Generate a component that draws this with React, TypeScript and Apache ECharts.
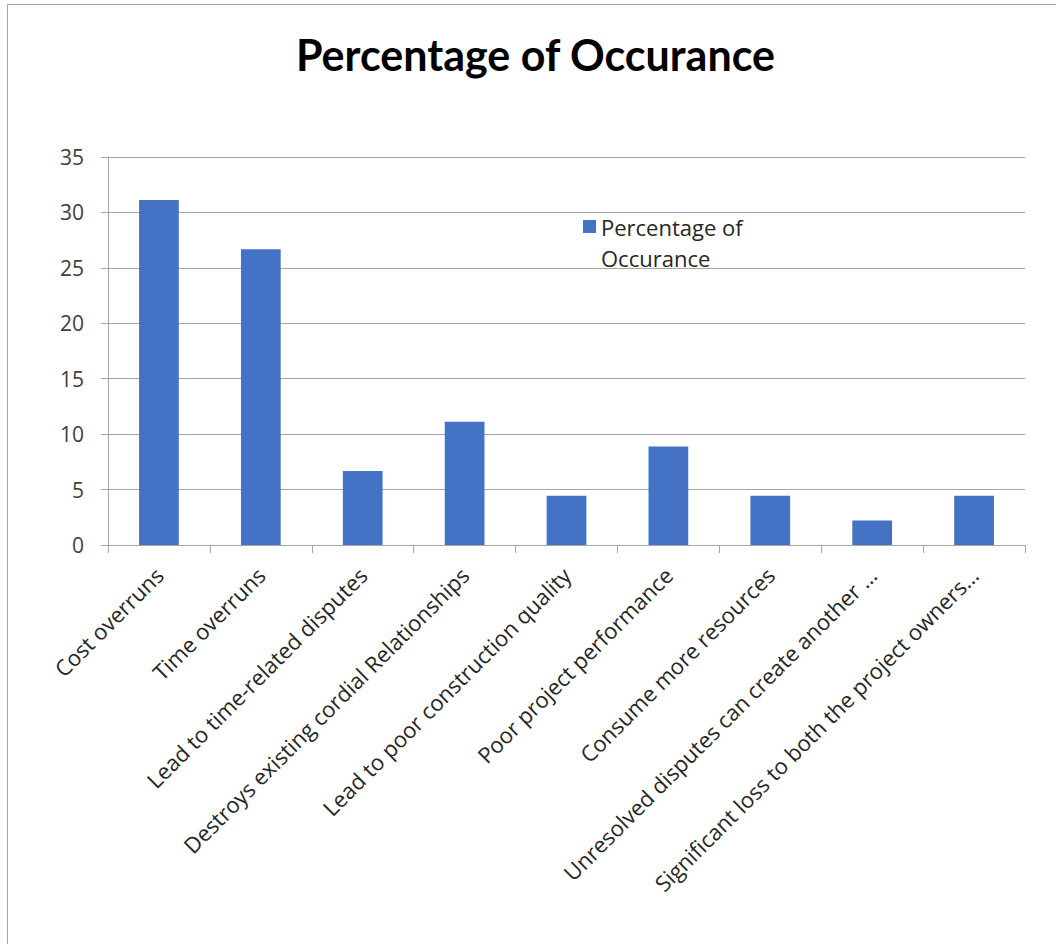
import React, { useEffect, useRef } from "react";
import * as echarts from "echarts";

const categories: string[] = [
  "Cost overruns",
  "Time overruns",
  "Lead to time-related disputes",
  "Destroys existing cordial Relationships",
  "Lead to poor construction quality",
  "Poor project performance",
  "Consume more resources",
  "Unresolved disputes can create another …",
  "Significant loss to both the project owners…",
];

const percentages: number[] = [31.11, 26.67, 6.67, 11.11, 4.44, 8.89, 4.44, 2.22, 4.44];

const yTicks = { min: 0, max: 35, interval: 5 };

const seriesName = "Percentage of\nOccurance";
const titleText = "Percentage of Occurance";

export default function App() {
  const ref = useRef<HTMLDivElement>(null);

  useEffect(() => {
    if (!ref.current) return;
    const chart = echarts.init(ref.current, undefined, { renderer: "svg" });
    const font = "'Open Sans', sans-serif";
    chart.setOption({
      animation: false,
      backgroundColor: "#ffffff",
      title: {
        text: titleText,
        left: 291,
        top: 28,
        textStyle: {
          fontFamily: "Lato, sans-serif",
          fontWeight: "bold",
          fontSize: 43,
          color: "#000000",
        },
      },
      legend: {
        left: 578,
        top: 175,
        itemWidth: 13,
        itemHeight: 13,
        itemGap: 11,
        icon: "rect",
        data: [seriesName],
        formatter: (name: string) => "\n" + name,
        textStyle: {
          fontFamily: font,
          fontSize: 22,
          color: "#262626",
          lineHeight: 31,
        },
      },
      graphic: [
        {
          type: "rect",
          shape: { x: 7.5, y: 4.5, width: 1200, height: 1200 },
          style: { fill: "none", stroke: "#a6a6a6", lineWidth: 1 },
          silent: true,
          z: -10,
        },
      ],
      grid: {
        left: 108,
        right: 31,
        top: 157,
        bottom: 399,
        containLabel: false,
      },
      xAxis: {
        type: "category",
        data: categories,
        boundaryGap: true,
        axisLine: { show: true, lineStyle: { color: "#a6a6a6", width: 1 } },
        axisTick: { show: true, length: 8, lineStyle: { color: "#a6a6a6" } },
        axisLabel: {
          interval: 0,
          rotate: 45,
          margin: 26,
          fontFamily: font,
          fontSize: 22,
          color: "#262626",
        },
      },
      yAxis: {
        type: "value",
        min: yTicks.min,
        max: yTicks.max,
        interval: yTicks.interval,
        axisLine: { show: true, lineStyle: { color: "#a6a6a6", width: 1 } },
        axisTick: { show: true, length: 7, lineStyle: { color: "#a6a6a6" } },
        splitLine: { show: true, lineStyle: { color: "#a6a6a6", width: 1 } },
        axisLabel: {
          margin: 24,
          fontFamily: font,
          fontSize: 21,
          color: "#404040",
        },
      },
      series: [
        {
          name: seriesName,
          type: "bar",
          data: percentages,
          barWidth: "39%",
          itemStyle: { color: "#4472C4" },
        },
      ],
    });
    return () => chart.dispose();
  }, []);

  return (
    <div
      ref={ref}
      style={{ position: "fixed", left: 0, top: 0, width: 1056, height: 944 }}
    />
  );
}
